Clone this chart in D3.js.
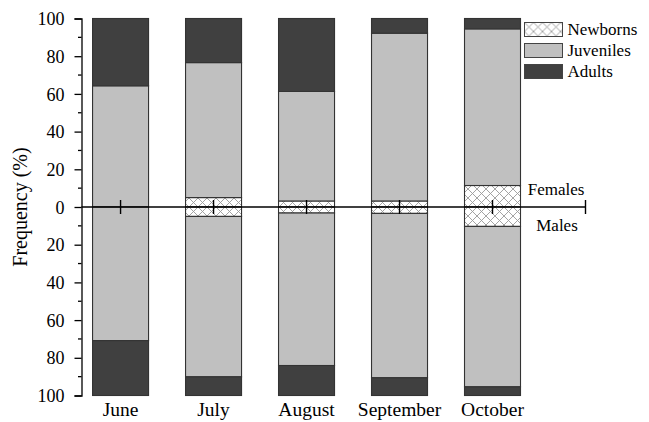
<!DOCTYPE html>
<html><head><meta charset="utf-8">
<script src="https://cdn.jsdelivr.net/npm/d3@7"></script>
<style>body{margin:0;background:#fff}svg{display:block}</style>
</head><body><svg id="c" width="649" height="422"></svg>
<script>
const months = ["June","July","August","September","October"];
const femaleNewborns = [0, 5, 3.2, 3.2, 11.4];
const femaleJuveniles = [64.3, 71.6, 58.1, 89.0, 83.1];
const femaleAdults = [35.7, 23.4, 38.7, 7.8, 5.5];
const maleNewborns = [0, 5, 3.2, 3.4, 10.3];
const maleJuveniles = [70.9, 85.1, 80.9, 87.2, 85.1];
const maleAdults = [29.1, 9.9, 15.9, 9.4, 4.6];
const yTicks = [-100,-80,-60,-40,-20,0,20,40,60,80,100];
const legendLabels = ["Newborns","Juveniles","Adults"];

const FONT = "Liberation Serif";
const svg = d3.select("#c");
const defs = svg.append("defs");
const pat = defs.append("pattern").attr("id","hatch").attr("patternUnits","userSpaceOnUse")
  .attr("width",9).attr("height",9);
pat.append("rect").attr("width",9).attr("height",9).attr("fill","#fff");
pat.append("path").attr("d","M0,0L9,9M9,0L0,9").attr("stroke","#9a9a9a").attr("stroke-width",0.9);

const colors = {Newborns:"url(#hatch)", Juveniles:"#c0c0c0", Adults:"#404040"};
const y = d3.scaleLinear().domain([-100,100]).range([395.5,18.5]);
const x = d3.scaleLinear().domain([0.58,6]).range([81.5,585.5]);
const barW = 56;

months.forEach((m,i)=>{
  const cx = x(i+1);
  const segs = [];
  let acc = 0;
  [["Newborns",femaleNewborns[i]],["Juveniles",femaleJuveniles[i]],["Adults",femaleAdults[i]]].forEach(([k,v])=>{
    segs.push({k, y0:acc, y1:acc+v}); acc+=v;
  });
  acc = 0;
  [["Newborns",maleNewborns[i]],["Juveniles",maleJuveniles[i]],["Adults",maleAdults[i]]].forEach(([k,v])=>{
    segs.push({k, y0:-acc, y1:-(acc+v)}); acc+=v;
  });
  svg.append("g").selectAll("rect").data(segs.filter(s=>s.y0!==s.y1)).join("rect")
    .attr("x", cx-barW/2).attr("width", barW)
    .attr("y", d=>Math.min(y(d.y0),y(d.y1)))
    .attr("height", d=>Math.abs(y(d.y0)-y(d.y1)))
    .attr("fill", d=>colors[d.k]).attr("stroke","#333").attr("stroke-width",1.1);
});

const yAxis = d3.axisLeft(y).tickValues(yTicks).tickFormat(d=>Math.abs(d)).tickSize(7).tickPadding(10);
const gy = svg.append("g").attr("transform","translate(81.5,0)").call(yAxis);
gy.attr("font-family", null).attr("font-size", null);
gy.select(".domain").attr("stroke","#000").attr("stroke-width",1.3);
gy.selectAll(".tick line").attr("stroke","#000").attr("stroke-width",1.3);
gy.selectAll(".tick text").attr("dy","0.34em").attr("fill","#000")
  .style("font-family",FONT).style("font-size","18px");
const minor = d3.range(-90,100,20);
svg.append("g").selectAll("line").data(minor).join("line")
  .attr("x1",78).attr("x2",81.5).attr("y1",d=>y(d)).attr("y2",d=>y(d))
  .attr("stroke","#000").attr("stroke-width",1.3);

svg.append("line").attr("x1",81.5).attr("x2",x(6)).attr("y1",y(0)).attr("y2",y(0))
  .attr("stroke","#000").attr("stroke-width",1.4);
svg.append("g").selectAll("line").data([1,2,3,4,5,6]).join("line")
  .attr("x1",d=>x(d)).attr("x2",d=>x(d)).attr("y1",y(0)-7).attr("y2",y(0)+7)
  .attr("stroke","#000").attr("stroke-width",1.4);

svg.append("g").selectAll("text").data(months).join("text")
  .style("font-family",FONT).style("font-size","19.5px")
  .attr("x",(d,i)=>x(i+1)).attr("y",416).attr("text-anchor","middle").text(d=>d);

svg.append("text").style("font-family",FONT).style("font-size","20px")
  .attr("transform","translate(27,207) rotate(-90)").attr("text-anchor","middle")
  .text("Frequency (%)");

svg.append("text").style("font-family",FONT).style("font-size","17px")
  .attr("x",556).attr("y",195).attr("text-anchor","middle").text("Females");
svg.append("text").style("font-family",FONT).style("font-size","17px")
  .attr("x",557).attr("y",231).attr("text-anchor","middle").text("Males");

const lg = svg.append("g")
  .selectAll("g").data(legendLabels).join("g")
  .attr("transform",(d,i)=>`translate(524.5,${22.5+i*21})`);
lg.append("rect").attr("width",38).attr("height",14).attr("fill",d=>colors[d]).attr("stroke","#444").attr("stroke-width",1);
lg.append("text").attr("x",43).attr("y",12.5).style("font-family",FONT).style("font-size","17px").text(d=>d);
</script></body></html>
